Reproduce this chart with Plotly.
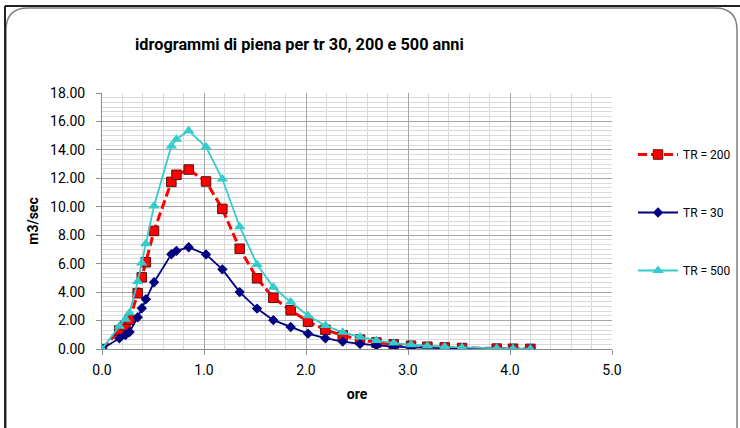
import plotly.graph_objects as go

# ---------------- data ----------------
ore = [0.00, 0.17, 0.23, 0.27, 0.35, 0.39, 0.43, 0.51, 0.68, 0.73, 0.85, 1.02,
       1.18, 1.35, 1.52, 1.68, 1.85, 2.02, 2.19, 2.36, 2.53, 2.69, 2.86, 3.03,
       3.19, 3.36, 3.53, 3.87, 4.03, 4.20]

tr200 = [0.00, 1.30, 1.65, 2.05, 3.92, 5.04, 6.10, 8.30, 11.75, 12.25, 12.62, 11.78,
         9.85, 7.05, 4.97, 3.60, 2.72, 1.92, 1.35, 0.95, 0.66, 0.46, 0.33, 0.23,
         0.16, 0.11, 0.07, 0.03, 0.02, 0.01]

tr30 = [0.00, 0.75, 0.98, 1.20, 2.23, 2.86, 3.50, 4.69, 6.66, 6.90, 7.15, 6.65,
        5.60, 4.00, 2.84, 2.03, 1.55, 1.08, 0.76, 0.52, 0.36, 0.25, 0.17, 0.12,
        0.08, 0.05, 0.03, 0.01, 0.00, 0.00]

tr500 = [0.00, 1.60, 2.10, 2.55, 4.75, 6.05, 7.40, 10.06, 14.28, 14.75, 15.35, 14.20,
         11.95, 8.60, 5.95, 4.34, 3.30, 2.34, 1.65, 1.17, 0.85, 0.60, 0.42, 0.30,
         0.21, 0.15, 0.10, 0.05, 0.03, 0.02]

series_names = ["TR = 200", "TR = 30", "TR = 500"]
title_text = "idrogrammi di piena per tr 30, 200 e 500 anni"
x_title = "ore"
y_title = "m3/sec"

# ---------------- layout geometry ----------------
W, H = 740, 428
L, R, T, B = 102, 128, 93, 79
PW, PH = W - L - R, H - T - B

def px(xp):
    return (xp - L) / PW

def py(yp):
    return (H - B - yp) / PH

FONT = "Roboto"

fig = go.Figure()

fig.add_trace(go.Scatter(
    x=ore, y=tr200, name=series_names[0], mode="lines+markers",
    legendgroup="a", legendrank=1,
    line=dict(color="#FF0000", width=3, dash="9px,4px"),
    marker=dict(symbol="square", size=9.5, color="#FF0000",
                line=dict(color="#5a1010", width=1)),
))
fig.add_trace(go.Scatter(
    x=ore, y=tr30, name=series_names[1], mode="lines+markers",
    legendgroup="b", legendrank=2,
    line=dict(color="#000080", width=1.8),
    marker=dict(symbol="diamond", size=8, color="#000080"),
))
fig.add_trace(go.Scatter(
    x=ore, y=tr500, name=series_names[2], mode="lines+markers",
    legendgroup="c", legendrank=3,
    line=dict(color="#33CCCC", width=1.8),
    marker=dict(symbol="triangle-up", size=10, color="#33CCCC"),
))

# chart-area frame
shapes = []
r = 22
path = (f"M {px(6)},{py(440)} L {px(6)},{py(8 + r)} "
        f"Q {px(6)},{py(8)} {px(6 + r)},{py(8)} "
        f"L {px(737 - r)},{py(8)} Q {px(737)},{py(8)} {px(737)},{py(8 + r)} "
        f"L {px(737)},{py(440)}")
shapes.append(dict(type="path", xref="paper", yref="paper", path=path,
                   line=dict(color="#7f7f7f", width=1.5)))
shapes.append(dict(type="line", xref="paper", yref="paper",
                   x0=px(5), x1=px(745), y0=py(6), y1=py(6),
                   line=dict(color="#222222", width=2)))
shapes.append(dict(type="line", xref="paper", yref="paper",
                   x0=px(5), x1=px(5), y0=py(6), y1=py(440),
                   line=dict(color="#222222", width=2)))

fig.update_layout(
    width=W, height=H,
    margin=dict(l=L, r=R, t=T, b=B, pad=0, autoexpand=False),
    paper_bgcolor="white", plot_bgcolor="white",
    font=dict(family=FONT, size=13, color="#000000"),
    title=dict(text=title_text, x=135 / W, xanchor="left",
               y=1 - 44 / H, yanchor="middle",
               font=dict(family=FONT, size=16.3, color="#000000", weight="bold")),
    showlegend=True,
    legend=dict(x=px(633), xanchor="left", y=py(140), yanchor="top",
                traceorder="grouped", tracegroupgap=39,
                itemwidth=40, font=dict(family=FONT, size=12, color="#000000"),
                bgcolor="rgba(0,0,0,0)"),
    shapes=shapes,
)

fig.update_xaxes(
    range=[0, 5], dtick=1, tick0=0, tickformat=".1f",
    showgrid=True, gridcolor="#a6a6a6", gridwidth=1,
    minor=dict(dtick=0.2, showgrid=True, gridcolor="#d9d9d9", gridwidth=1),
    showline=True, linecolor="#8c8c8c", linewidth=1,
    ticks="outside", ticklen=5, tickcolor="#8c8c8c",
    ticklabelstandoff=3, zeroline=False, automargin=False,
    tickfont=dict(family=FONT, size=14, color="#000000"),
    title=dict(text=x_title, standoff=12,
               font=dict(family=FONT, size=14, color="#000000", weight="bold")),
)
fig.update_yaxes(
    range=[0, 18], dtick=2, tick0=0, tickformat=".2f",
    showgrid=True, gridcolor="#a6a6a6", gridwidth=1,
    minor=dict(dtick=2 / 6, showgrid=True, gridcolor="#d9d9d9", gridwidth=1),
    showline=True, linecolor="#8c8c8c", linewidth=1,
    ticks="outside", ticklen=5, tickcolor="#8c8c8c",
    ticklabelstandoff=8, zeroline=False, automargin=False,
    tickfont=dict(family=FONT, size=14, color="#000000"),
    title=dict(text=y_title, standoff=8,
               font=dict(family=FONT, size=14, color="#000000", weight="bold")),
)

fig.write_html("out.html",
               config={"displayModeBar": False},
               post_script="document.body.style.margin='0px';"
                           "document.body.style.overflow='hidden';")
